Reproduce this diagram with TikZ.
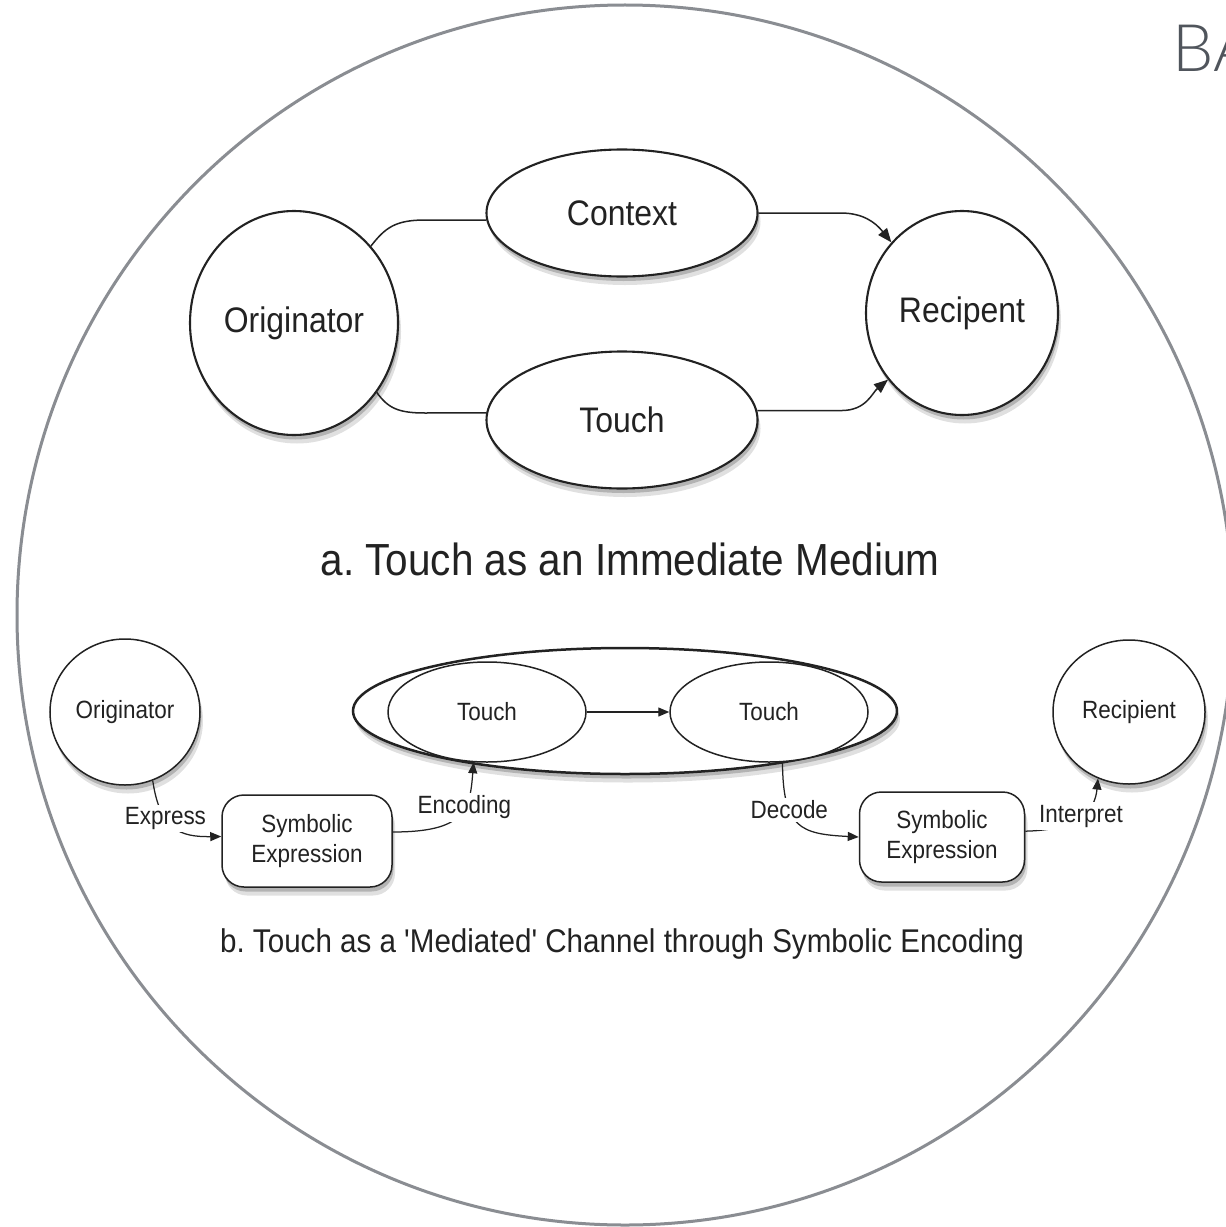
\documentclass[tikz,border=0pt]{standalone}
\usepackage{fontspec}
\setmainfont{Liberation Sans}
\newfontfamily\dg[FakeStretch=0.9]{Liberation Sans}
\newfontfamily\thinfont{Lato Light}
\usetikzlibrary{shapes.geometric,arrows.meta,shadows,calc}
\definecolor{ink}{HTML}{222222}
\definecolor{ring}{HTML}{8A8D92}
\definecolor{bagray}{HTML}{50555C}
\frenchspacing
\begin{document}
\begin{tikzpicture}[x=0.2mm,y=-0.2mm,
  dshadow/.style={drop shadow={shadow xshift=0.6mm,shadow yshift=-1.7mm,opacity=0.12,fill=black},
                  drop shadow={shadow xshift=0.3mm,shadow yshift=-0.9mm,opacity=0.2,fill=black}},
  topnode/.style={ellipse,draw=ink,line width=0.42mm,fill=white,inner sep=0,
    font=\dg\fontsize{20.2}{24}\selectfont,text=ink,dshadow},
  botnode/.style={ellipse,draw=ink,line width=0.3mm,fill=white,inner sep=0,
    font=\dg\fontsize{14.2}{17}\selectfont,text=ink},
  symbox/.style={rectangle,rounded corners=4.4mm,draw=ink,line width=0.3mm,fill=white,
    inner sep=0,align=center,font=\dg\fontsize{14.2}{17}\selectfont,text=ink,dshadow},
  conn/.style={draw=ink,line width=0.3mm},
  arr/.style={conn,-{Triangle[length=2.8mm,width=2.2mm]}},
  sarr/.style={draw=ink,line width=0.25mm,-{Triangle[length=2.2mm,width=1.8mm]}},
  lbl/.style={fill=white,inner sep=1.5pt,font=\dg\fontsize{14.2}{17}\selectfont,text=ink},
]
\useasboundingbox (0,0) rectangle (1226,1227);
\clip (0,0) rectangle (1226,1227);
\fill[white] (0,0) rectangle (1226,1227);

% outer ring
\draw[ring,line width=0.6mm] (625,615) ellipse [x radius=608, y radius=610];

% corner title
\node[anchor=base west,inner sep=0,text=bagray,font=\thinfont\fontsize{37.3}{40}\selectfont] (ba) at (1172,72) {BA};

% ---------- part a ----------
\node[topnode,minimum width=41.6mm,minimum height=44.8mm] (orig) at (294,323) {Originator};
\node[topnode,minimum width=54.2mm,minimum height=25.4mm] (ctx) at (622,213) {Context};
\node[topnode,minimum width=54.2mm,minimum height=27.4mm] (tch) at (622,420) {Touch};
\node[topnode,minimum width=38.4mm,minimum height=40.8mm] (rec) at (962,313) {Recipent};

\draw[conn] (orig.45) .. controls (385,228) and (395,220) .. (425,220) -- (ctx.183);
\draw[conn] (orig.320) .. controls (388,408) and (398,413) .. (425,413) -- (tch.177);
\draw[arr] (ctx.east) -- ++(82,0) .. controls +(22,0) and (875,222) .. (rec.135);
\draw[arr] (tch.4) -- ++(84,0) .. controls +(25,0) and (872,393) .. (rec.222);

\node[anchor=base,text=ink,font=\dg\fontsize{25.6}{30}\selectfont] (capa) at (630,575) {a. Touch as an Immediate Medium};

% ---------- part b ----------
\node[botnode,dshadow,minimum width=30mm,minimum height=29.2mm] (o2) at (125,712) {Originator};
\node[ellipse,draw=ink,line width=0.5mm,fill=white,inner sep=0,dshadow,
      minimum width=108.8mm,minimum height=25.2mm] (bige) at (625,711) {};
\node[botnode,minimum width=39.6mm,minimum height=20mm] (t1) at (487,712) {Touch};
\node[botnode,minimum width=39.6mm,minimum height=20mm] (t2) at (769,712) {Touch};
\node[botnode,dshadow,minimum width=30.4mm,minimum height=28.8mm] (r2) at (1129,712) {Recipient};

\node[symbox,minimum width=34mm,minimum height=18.4mm] (se1) at (307,841) {Symbolic\\Expression};
\node[symbox,minimum width=33mm,minimum height=18mm] (se2) at (942,837) {Symbolic\\Expression};

\draw[sarr] (t1.east) -- (t2.west);
\draw[sarr] (o2.-68) .. controls (160,830) and (180,837) .. (se1.177)
  node[lbl,pos=0.35] (lexp) {Express};
\draw[sarr] (se1.6) .. controls (465,832) and (470,810) .. (t1.-105)
  node[lbl,pos=0.6] (lenc) {Encoding};
\draw[sarr] (t2.-75) .. controls (783,828) and (800,834) .. (se2.west)
  node[lbl,pos=0.33] (ldec) {Decode};
\draw[sarr] (se2.4) .. controls (1080,830) and (1095,810) .. (r2.-115)
  node[lbl,pos=0.5] (lint) {Interpret};

\node[anchor=base,text=ink,font=\dg\fontsize{18.7}{22}\selectfont] (capb) at (622,952)
  {b. Touch as a 'Mediated' Channel through Symbolic Encoding};
\end{tikzpicture}
\end{document}
